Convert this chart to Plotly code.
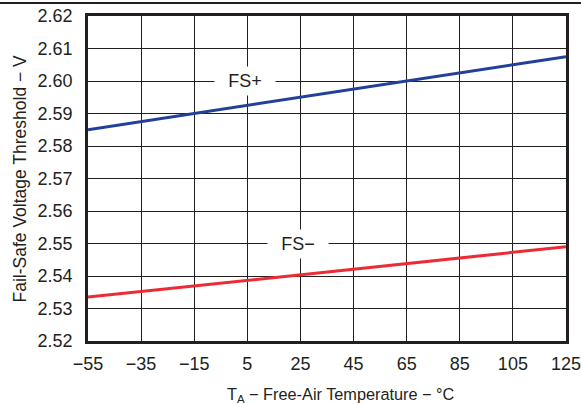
import plotly.graph_objects as go

temps = [-55, -15, 25, 65, 125]
fs_plus = [2.585, 2.590, 2.595, 2.600, 2.6075]
fs_minus = [2.5335, 2.5369, 2.5404, 2.5438, 2.549]

x_ticks = [-55, -35, -15, 5, 25, 45, 65, 85, 105, 125]
y_ticks = [2.52, 2.53, 2.54, 2.55, 2.56, 2.57, 2.58, 2.59, 2.60, 2.61, 2.62]

FONT = "Liberation Sans, Arial, sans-serif"

fig = go.Figure()
fig.add_trace(go.Scatter(x=temps, y=fs_plus, mode="lines",
                         line=dict(color="#22409a", width=3), name="FS+"))
fig.add_trace(go.Scatter(x=temps, y=fs_minus, mode="lines",
                         line=dict(color="#ec2b35", width=3), name="FS−"))

fig.update_layout(
    width=581, height=404,
    margin=dict(l=88, r=15, t=16, b=63),
    paper_bgcolor="white", plot_bgcolor="white",
    showlegend=False,
    font=dict(family=FONT, size=18, color="#231f20"),
)
fig.update_xaxes(
    range=[-55, 125], tickvals=x_ticks, automargin=False,
    ticktext=[str(v).replace("-", "−") for v in x_ticks],
    showgrid=True, gridcolor="#231f20", gridwidth=1.3,
    showline=True, linecolor="#231f20", linewidth=2.5, mirror=True,
    ticks="", ticklabelstandoff=5, zeroline=False,
    ticklabeloverflow="allow",
    tickfont=dict(size=18),
)
fig.update_yaxes(
    range=[2.52, 2.62], tickvals=y_ticks, automargin=False,
    ticktext=[f"{v:.2f}" for v in y_ticks],
    showgrid=True, gridcolor="#231f20", gridwidth=1.3,
    showline=True, linecolor="#231f20", linewidth=2.5, mirror=True,
    ticks="", ticklabelstandoff=9, zeroline=False,
    tickfont=dict(size=18),
)

fig.add_annotation(x=4, y=2.60, text="FS+", showarrow=False, bgcolor="white",
                   width=58, height=26, borderpad=1, font=dict(size=18))
fig.add_annotation(x=24, y=2.55, text="FS−", showarrow=False, bgcolor="white",
                   width=58, height=26, borderpad=1, font=dict(size=18))

fig.add_annotation(xref="paper", yref="paper", x=0.5, xshift=14, y=0, yshift=-54,
                   xanchor="center", yanchor="middle", showarrow=False,
                   text="T<sub>A</sub> − Free-Air Temperature − °C", font=dict(size=16.3))
fig.add_annotation(xref="paper", yref="paper", x=0, xshift=-69, y=0.5,
                   xanchor="center", yanchor="middle", showarrow=False, textangle=-90,
                   text="Fail-Safe Voltage Threshold − V", font=dict(size=17.5))

fig.add_shape(type="line", xref="paper", yref="paper", x0=-0.19, x1=1.04,
              y0=1.04, y1=1.04, line=dict(color="#231f20", width=2))

fig.write_html("out.html", config={"displayModeBar": False},
               post_script="document.body.style.margin='0';document.body.style.overflow='hidden';")
